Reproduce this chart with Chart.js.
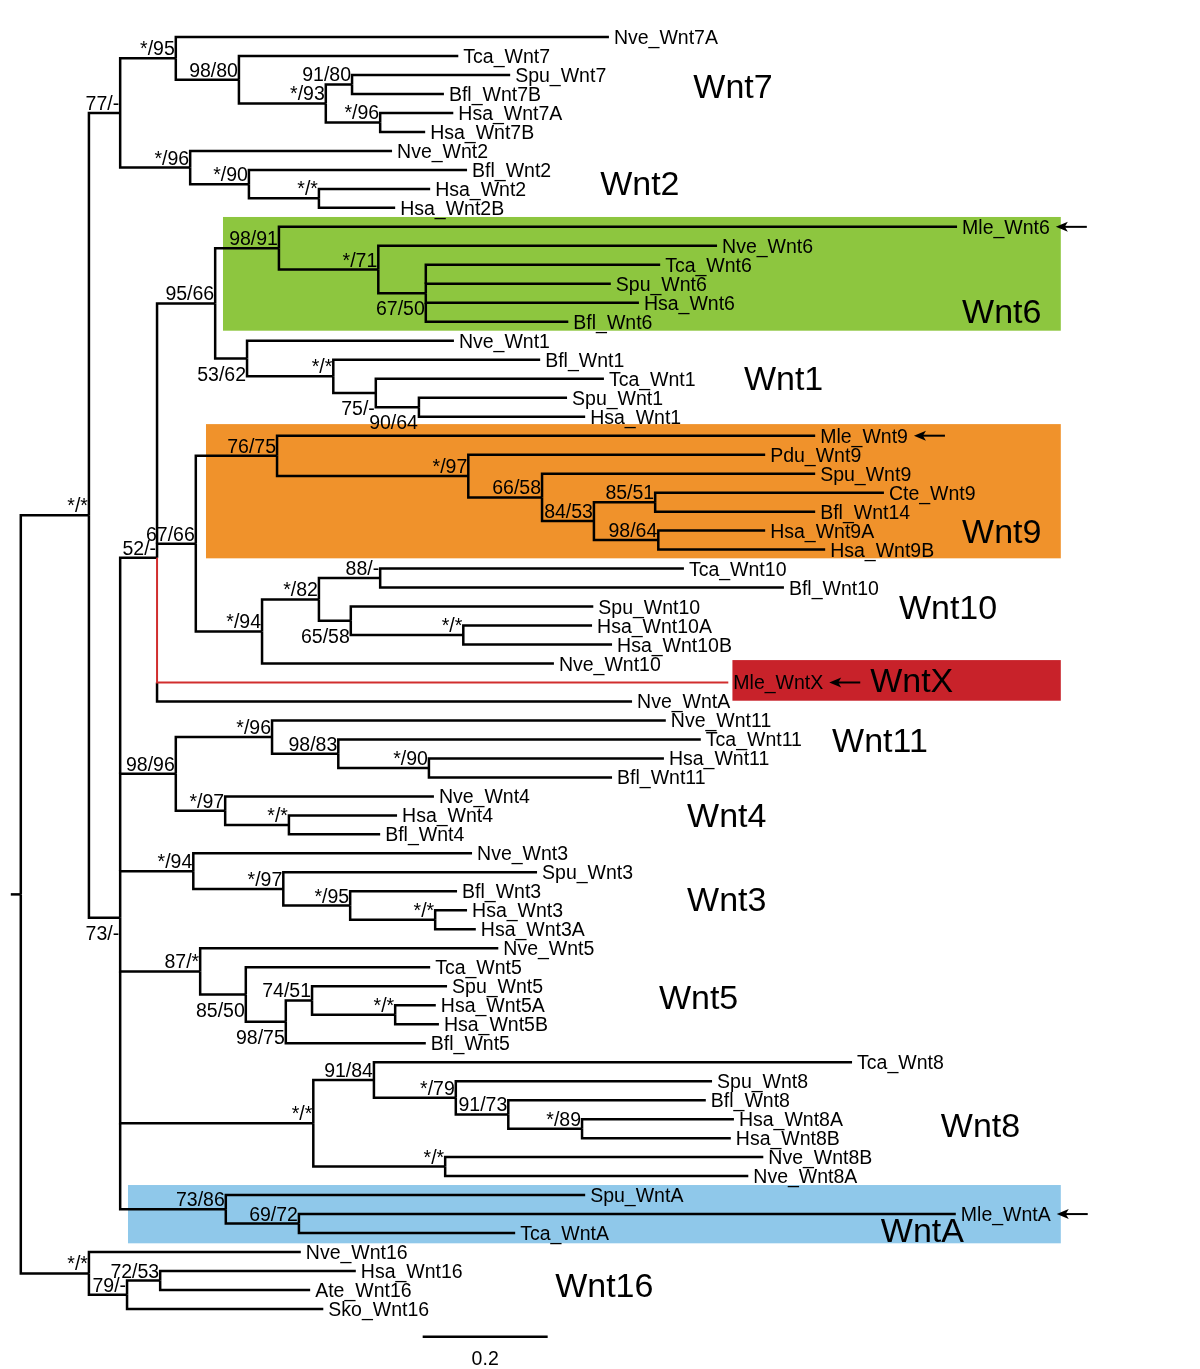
<!DOCTYPE html>
<html>
<head>
<meta charset="utf-8">
<title>Wnt phylogeny</title>
<script src="https://cdn.jsdelivr.net/npm/chart.js@4.4.1/dist/chart.umd.min.js"></script>
<style>
  html, body { margin: 0; padding: 0; background: #fff; }
  canvas { display: block; }
</style>
</head>
<body>
<canvas id="tree" width="1200" height="1369"></canvas>
<script>
// leaves, top to bottom
const leafNames = [
    'Nve_Wnt7A', 'Tca_Wnt7', 'Spu_Wnt7', 'Bfl_Wnt7B', 'Hsa_Wnt7A', 'Hsa_Wnt7B', 'Nve_Wnt2', 'Bfl_Wnt2', 'Hsa_Wnt2', 'Hsa_Wnt2B',
    'Mle_Wnt6', 'Nve_Wnt6', 'Tca_Wnt6', 'Spu_Wnt6', 'Hsa_Wnt6', 'Bfl_Wnt6',
    'Nve_Wnt1', 'Bfl_Wnt1', 'Tca_Wnt1', 'Spu_Wnt1', 'Hsa_Wnt1',
    'Mle_Wnt9', 'Pdu_Wnt9', 'Spu_Wnt9', 'Cte_Wnt9', 'Bfl_Wnt14', 'Hsa_Wnt9A', 'Hsa_Wnt9B',
    'Tca_Wnt10', 'Bfl_Wnt10', 'Spu_Wnt10', 'Hsa_Wnt10A', 'Hsa_Wnt10B', 'Nve_Wnt10',
    'Mle_WntX', 'Nve_WntA',
    'Nve_Wnt11', 'Tca_Wnt11', 'Hsa_Wnt11', 'Bfl_Wnt11',
    'Nve_Wnt4', 'Hsa_Wnt4', 'Bfl_Wnt4',
    'Nve_Wnt3', 'Spu_Wnt3', 'Bfl_Wnt3', 'Hsa_Wnt3', 'Hsa_Wnt3A',
    'Nve_Wnt5', 'Tca_Wnt5', 'Spu_Wnt5', 'Hsa_Wnt5A', 'Hsa_Wnt5B', 'Bfl_Wnt5',
    'Tca_Wnt8', 'Spu_Wnt8', 'Bfl_Wnt8', 'Hsa_Wnt8A', 'Hsa_Wnt8B', 'Nve_Wnt8B', 'Nve_Wnt8A',
    'Spu_WntA', 'Mle_WntA', 'Tca_WntA',
    'Nve_Wnt16', 'Hsa_Wnt16', 'Ate_Wnt16', 'Sko_Wnt16'
];
// distance from the root (substitutions per site)
const leafDepth = [
    0.941, 0.700, 0.783, 0.677, 0.692, 0.647, 0.594, 0.714, 0.655, 0.599,
    1.498, 1.114, 1.023, 0.944, 0.989, 0.876,
    0.693, 0.831, 0.933, 0.874, 0.903,
    1.271, 1.191, 1.271, 1.381, 1.271, 1.191, 1.287,
    1.061, 1.221, 0.916, 0.914, 0.946, 0.853,
    1.132, 0.978,
    1.032, 1.088, 1.029, 0.946,
    0.661, 0.602, 0.575,
    0.722, 0.826, 0.698, 0.714, 0.728,
    0.764, 0.655, 0.682, 0.664, 0.669, 0.648,
    1.330, 1.106, 1.096, 1.141, 1.136, 1.188, 1.164,
    0.903, 1.496, 0.791,
    0.448, 0.536, 0.463, 0.484
];
const leafParent = [
    'n7', 'n7a', 'n7c', 'n7c', 'n7d', 'n7d', 'n2', 'n2a', 'n2b', 'n2b',
    'n6', 'n6a', 'n6b', 'n6b', 'n6b', 'n6b',
    'n1', 'n1a', 'n1b', 'n1c', 'n1c',
    'n9', 'n9a', 'n9b', 'n9d', 'n9d', 'n9e', 'n9e',
    'n10b', 'n10b', 'n10c', 'n10d', 'n10d', 'n10',
    'nN1', 'nN1',
    'n11', 'n11a', 'n11b', 'n11b',
    'n4', 'n4a', 'n4a',
    'n3', 'n3a', 'n3b', 'n3c', 'n3c',
    'n5', 'n5a', 'n5c', 'n5d', 'n5d', 'n5b',
    'n8a', 'n8b', 'n8c', 'n8d', 'n8d', 'n8e', 'n8e',
    'nA', 'nAa', 'nAa',
    'n16', 'n16b', 'n16b', 'n16a'
];

// internal nodes
const nodeNames = ['root', 'nB', 'nC', 'n7', 'n7a', 'n7b', 'n7c', 'n7d', 'n2', 'n2a', 'n2b',
    'n73', 'nN1', 'n6_1', 'n6', 'n6a', 'n6b', 'n1', 'n1a', 'n1b', 'n1c',
    'n9_10', 'n9', 'n9a', 'n9b', 'n9c', 'n9d', 'n9e', 'n10', 'n10a', 'n10b', 'n10c', 'n10d',
    'n11_4', 'n11', 'n11a', 'n11b', 'n4', 'n4a', 'n3', 'n3a', 'n3b', 'n3c',
    'n5', 'n5a', 'n5b', 'n5c', 'n5d', 'n8', 'n8a', 'n8b', 'n8c', 'n8d', 'n8e',
    'nA', 'nAa', 'n16', 'n16a', 'n16b'];
const nodeParent = [null, 'root', 'nB', 'nC', 'n7', 'n7a', 'n7b', 'n7b', 'nC', 'n2', 'n2a',
    'nB', 'n73', 'nN1', 'n6_1', 'n6', 'n6a', 'n6_1', 'n1', 'n1a', 'n1b',
    'nN1', 'n9_10', 'n9', 'n9a', 'n9b', 'n9c', 'n9c', 'n9_10', 'n10', 'n10a', 'n10a', 'n10c',
    'n73', 'n11_4', 'n11', 'n11a', 'n11_4', 'n4', 'n73', 'n3', 'n3a', 'n3b',
    'n73', 'n5', 'n5a', 'n5b', 'n5c', 'n73', 'n8', 'n8a', 'n8b', 'n8c', 'n8',
    'n73', 'nA', 'root', 'n16', 'n16a'];
const nodeDepth = [0, 0.109, 0.159, 0.248, 0.349, 0.488, 0.530, 0.575, 0.271, 0.365, 0.477,
    0.159, 0.218, 0.311, 0.413, 0.572, 0.648, 0.362, 0.500, 0.568, 0.637,
    0.280, 0.410, 0.716, 0.834, 0.917, 1.015, 1.020, 0.386, 0.477, 0.575, 0.528, 0.708,
    0.248, 0.402, 0.508, 0.653, 0.327, 0.429, 0.276, 0.420, 0.527, 0.663,
    0.287, 0.360, 0.424, 0.466, 0.599, 0.468, 0.565, 0.696, 0.780, 0.898, 0.679,
    0.328, 0.445, 0.109, 0.170, 0.223];
const nodeSupport = ['', '*/*', '77/-', '*/95', '98/80', '*/93', '91/80', '*/96', '*/96', '*/90', '*/*',
    '73/-', '52/-', '95/66', '98/91', '*/71', '67/50', '53/62', '*/*', '75/-', '90/64',
    '67/66', '76/75', '*/97', '66/58', '84/53', '85/51', '98/64', '*/94', '*/82', '88/-', '65/58', '*/*',
    '98/96', '*/96', '98/83', '*/90', '*/97', '*/*', '*/94', '*/97', '*/95', '*/*',
    '87/*', '85/50', '98/75', '74/51', '*/*', '*/*', '91/84', '*/79', '91/73', '*/89', '*/*',
    '73/86', '69/72', '*/*', '79/-', '72/53'];

const rootBranch = 0.016;
const scaleBarLength = 0.2;
const scaleBarStart = 0.643;

// clade names and highlighted leaves
const cladeNames = ['Wnt7', 'Wnt2', 'Wnt6', 'Wnt1', 'Wnt9', 'Wnt10', 'WntX', 'Wnt11', 'Wnt4', 'Wnt3', 'Wnt5', 'Wnt8', 'WntA', 'Wnt16'];
const arrowLeaves = ['Mle_Wnt6', 'Mle_Wnt9', 'Mle_WntX', 'Mle_WntA'];
const redLeaf = 'Mle_WntX';
const supportBelow = ['n73', 'n6b', 'n1', 'n1b', 'n1c', 'n10c', 'n5a', 'n5b'];

// where clade names sit (x in branch units, y in rows)
const cladeLabelPos = [
    [1.076, 2.58], [0.927, 7.69], [1.506, 14.43], [1.157, 17.96], [1.506, 26.02], [1.405, 30.02], [1.359, 33.87],
    [1.298, 37.03], [1.066, 40.98], [1.066, 45.40], [1.021, 50.57], [1.472, 57.31], [1.376, 62.84], [0.855, 65.74]
];
const cladeBoxes = [
    { x0: 0.3235, x1: 1.664, r0: 9.48, r1: 15.47, color: '#8dc63f' },
    { x0: 0.2963, x1: 1.664, r0: 20.39, r1: 27.46, color: '#f0922b' },
    { x0: 1.1386, x1: 1.664, r0: 32.82, r1: 34.96, color: '#c8222a' },
    { x0: 0.1715, x1: 1.664, r0: 60.47, r1: 63.54, color: '#8fc8ea' }
];

// tree bookkeeping
const rowOf = {};
const depthOf = {};
const parentOf = {};
leafNames.forEach((n, i) => {
    rowOf[n] = i;
    depthOf[n] = leafDepth[i];
    parentOf[n] = leafParent[i];
});
nodeNames.forEach((n, i) => {
    depthOf[n] = nodeDepth[i];
    parentOf[n] = nodeParent[i];
});
const children = {};
Object.keys(parentOf).forEach(n => {
    const p = parentOf[n];
    if (p) (children[p] = children[p] || []).push(n);
});

function nodeRow(n) {
    if (n in rowOf) return rowOf[n];
    const c = children[n];
    rowOf[n] = c.reduce((s, k) => s + nodeRow(k), 0) / c.length;
    return rowOf[n];
}
nodeNames.forEach(nodeRow);

// vertical part starts at the nearest sibling between parent and child
function elbowStart(c, p) {
    const r = rowOf[c];
    const pr = rowOf[p];
    let start = pr;
    children[p].forEach(s => {
        const sr = rowOf[s];
        if (s !== c && (sr - pr) * (r - sr) > 0 && Math.abs(r - sr) < Math.abs(r - start)) start = sr;
    });
    return start;
}

const datasets = [];
Object.keys(parentOf).forEach(n => {
    const p = parentOf[n];
    if (!p) return;
    const red = n === redLeaf;
    datasets.push({
        data: [
            { x: depthOf[p], y: elbowStart(n, p) },
            { x: depthOf[p], y: rowOf[n] },
            { x: depthOf[n], y: rowOf[n] }
        ],
        borderColor: red ? '#d12e2e' : '#000',
        borderWidth: red ? 2 : 2.5,
        order: red ? 0 : 1
    });
});
// root stub
datasets.push({
    data: [{ x: -rootBranch, y: rowOf.root }, { x: 0, y: rowOf.root }],
    borderColor: '#000', borderWidth: 2.5, order: 1
});
// scale bar
const scaleBarRow = 68.46;
datasets.push({
    data: [{ x: scaleBarStart, y: scaleBarRow }, { x: scaleBarStart + scaleBarLength, y: scaleBarRow }],
    borderColor: '#000', borderWidth: 2.5, order: 1
});
datasets.forEach(d => {
    d.showLine = true;
    d.pointRadius = 0;
    d.borderJoinStyle = 'miter';
    d.borderCapStyle = 'butt';
    d.fill = false;
});

const labelFont = '19.5px "Liberation Sans", Arial, sans-serif';
const cladeFont = '34px "Liberation Sans", Arial, sans-serif';

function drawArrow(ctx, x0, yy) {
    ctx.fillStyle = '#000';
    ctx.strokeStyle = '#000';
    ctx.lineWidth = 2;
    ctx.beginPath();
    ctx.moveTo(x0 + 8, yy);
    ctx.lineTo(x0 + 31, yy);
    ctx.stroke();
    ctx.beginPath();
    ctx.moveTo(x0, yy);
    ctx.lineTo(x0 + 12, yy - 5);
    ctx.lineTo(x0 + 9, yy);
    ctx.lineTo(x0 + 12, yy + 5);
    ctx.closePath();
    ctx.fill();
}

const treeDecor = {
    id: 'treeDecor',
    beforeDatasetsDraw(chart) {
        const { ctx, scales: { x, y } } = chart;
        ctx.save();
        cladeBoxes.forEach(b => {
            const left = x.getPixelForValue(b.x0);
            const right = x.getPixelForValue(b.x1);
            const top = y.getPixelForValue(b.r0);
            const bottom = y.getPixelForValue(b.r1);
            ctx.fillStyle = b.color;
            ctx.fillRect(left, top, right - left, bottom - top);
        });
        ctx.restore();
    },
    afterDatasetsDraw(chart) {
        const { ctx, scales: { x, y } } = chart;
        ctx.save();
        ctx.fillStyle = '#000';
        ctx.font = labelFont;
        ctx.textBaseline = 'alphabetic';

        // leaf names
        ctx.textAlign = 'left';
        leafNames.forEach((n, i) => {
            const px = x.getPixelForValue(leafDepth[i]) + 5;
            const py = y.getPixelForValue(i);
            ctx.fillText(n, px, py + 7);
            if (arrowLeaves.includes(n)) {
                drawArrow(ctx, px + ctx.measureText(n).width + 6, py);
            }
        });

        // support values
        ctx.textAlign = 'right';
        nodeNames.forEach((n, i) => {
            if (!nodeSupport[i]) return;
            const px = x.getPixelForValue(nodeDepth[i]) - 1;
            const py = y.getPixelForValue(rowOf[n]);
            const below = supportBelow.includes(n);
            ctx.fillText(nodeSupport[i], px, below ? py + 22 : py - 3);
        });

        // scale bar label
        ctx.textAlign = 'center';
        ctx.fillText(String(scaleBarLength), x.getPixelForValue(scaleBarStart + scaleBarLength / 2), y.getPixelForValue(scaleBarRow) + 28);

        // clade names
        ctx.font = cladeFont;
        ctx.textAlign = 'left';
        ctx.textBaseline = 'middle';
        cladeNames.forEach((c, i) => {
            ctx.fillText(c, x.getPixelForValue(cladeLabelPos[i][0]), y.getPixelForValue(cladeLabelPos[i][1]) + 3);
        });
        ctx.restore();
    }
};

// 625 px per substitution unit, ~18.985 px per row
const xMin = -20.8 / 625;
const yMin = -37 / 18.985;

new Chart(document.getElementById('tree'), {
    type: 'scatter',
    data: { datasets },
    options: {
        responsive: false,
        animation: false,
        devicePixelRatio: 1,
        layout: { padding: 0 },
        plugins: { legend: { display: false }, tooltip: { enabled: false } },
        scales: {
            x: { type: 'linear', display: false, min: xMin, max: xMin + 1200 / 625 },
            y: { type: 'linear', display: false, reverse: true, min: yMin, max: yMin + 1369 / 18.985 }
        }
    },
    plugins: [treeDecor]
});
</script>
</body>
</html>
